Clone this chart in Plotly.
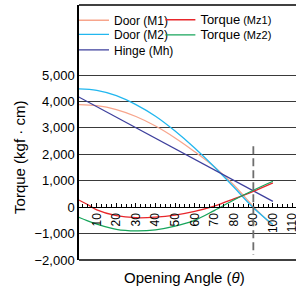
import plotly.graph_objects as go

theta = [0, 10, 20, 30, 40, 50, 60, 70, 80, 90, 100]
door_m1 = [3880, 3840, 3690, 3430, 3070, 2620, 2100, 1530, 840, 30, -720]
door_m2 = [4480, 4420, 4220, 3880, 3440, 2880, 2240, 1530, 760, -20, -660]
hinge_mh = [4200, 3800, 3400, 3000, 2610, 2210, 1810, 1410, 1010, 620, 220]
theta_t = [0, 5, 10, 20, 30, 40, 50, 60, 70, 80, 90, 100]
torque_mz1 = [300, 110, -100, -320, -400, -380, -300, -160, 40, 310, 600, 920]
torque_mz2 = [-360, -510, -640, -840, -900, -860, -720, -500, -130, 270, 640, 980]

ytick_vals = [-2000, -1000, 0, 1000, 2000, 3000, 4000, 5000]
ytick_text = ["\u22122,000", "\u22121,000", "0", "1,000", "2,000", "3,000", "4,000", "5,000"]

X_RANGE = [0.9, 111.8]
Y_RANGE = [-2000, 7650]

FONT = "Liberation Sans, Arial, sans-serif"

fig = go.Figure()
big = "<span style='font-size:13px'>Torque</span>"
small = "<span style='font-size:11px'> (%s)</span>"
fig.add_trace(go.Scatter(x=theta, y=door_m1, mode="lines", name="Door (M1)", legend="legend",
                         line=dict(color="#f7a58c", width=1.3, shape="spline")))
fig.add_trace(go.Scatter(x=theta, y=door_m2, mode="lines", name="Door (M2)", legend="legend2",
                         line=dict(color="#22b7ef", width=1.3, shape="spline")))
fig.add_trace(go.Scatter(x=theta, y=hinge_mh, mode="lines", name="Hinge (Mh)", legend="legend3",
                         line=dict(color="#3d3f9c", width=1.3)))
fig.add_trace(go.Scatter(x=theta_t, y=torque_mz1, mode="lines", legend="legend4",
                         name=big + small % "Mz1",
                         line=dict(color="#e8262b", width=1.3, shape="spline")))
fig.add_trace(go.Scatter(x=theta_t, y=torque_mz2, mode="lines", legend="legend5",
                         name=big + small % "Mz2",
                         line=dict(color="#17a55b", width=1.3, shape="spline")))

zero_pos = (0 - Y_RANGE[0]) / (Y_RANGE[1] - Y_RANGE[0])


def leg(x, y):
    return dict(orientation="v", xanchor="left", yanchor="top", x=x, y=y,
                bgcolor="rgba(0,0,0,0)", font=dict(size=12, family=FONT),
                tracegroupgap=0, itemwidth=30)


fig.update_layout(
    width=296, height=288,
    margin=dict(l=79, r=0, t=5, b=28, autoexpand=False),
    paper_bgcolor="white", plot_bgcolor="white",
    font=dict(family=FONT, size=12, color="black"),
    showlegend=True,
    legend=leg(-0.023, 0.997),
    legend2=leg(-0.023, 0.942),
    legend3=leg(-0.023, 0.881),
    legend4=leg(0.375, 0.999),
    legend5=leg(0.375, 0.940),
    xaxis=dict(range=X_RANGE, anchor="free", position=zero_pos,
               showgrid=False, zeroline=False, showline=True, linecolor="black", linewidth=1.2,
               ticks="inside", ticklen=4, tickcolor="black", tickwidth=1,
               tick0=0, dtick=10, tickangle=-90, ticklabeloverflow="allow",
               minor=dict(dtick=2.5, ticks="inside", ticklen=3, tickcolor="black"),
               tickfont=dict(size=12, family=FONT)),
    yaxis=dict(range=Y_RANGE, tickvals=ytick_vals, ticktext=ytick_text,
               showgrid=True, gridcolor="#3a3a3a", gridwidth=1.1,
               zeroline=False, showline=True, linecolor="black", linewidth=1.5,
               ticks="", tickfont=dict(size=13, family=FONT)),
    shapes=[
        dict(type="line", xref="paper", yref="paper", x0=0, x1=1, y0=1, y1=1,
             line=dict(color="black", width=1.5)),
        dict(type="line", xref="paper", yref="paper", x0=0, x1=1, y0=0, y1=0,
             line=dict(color="black", width=1.5)),
        dict(type="line", xref="x", yref="y", x0=90, x1=90, y0=2300, y1=-1800,
             line=dict(color="#6e6e6e", width=1.8, dash="8px,4px")),
    ],
    annotations=[
        dict(text="Torque (kgf \u00b7 cm)", xref="paper", yref="paper",
             x=-0.272, y=0.404, textangle=-90, showarrow=False,
             font=dict(size=15, family=FONT), xanchor="center", yanchor="middle"),
        dict(text="Opening Angle (<i>\u03b8</i>)", xref="paper", yref="paper",
             x=0.488, y=-0.067, showarrow=False,
             font=dict(size=15, family=FONT), xanchor="center", yanchor="middle"),
    ],
)

fig.write_html("out.html", config={"displayModeBar": False},
               post_script="document.body.style.margin='0px';document.body.style.overflow='hidden';")
